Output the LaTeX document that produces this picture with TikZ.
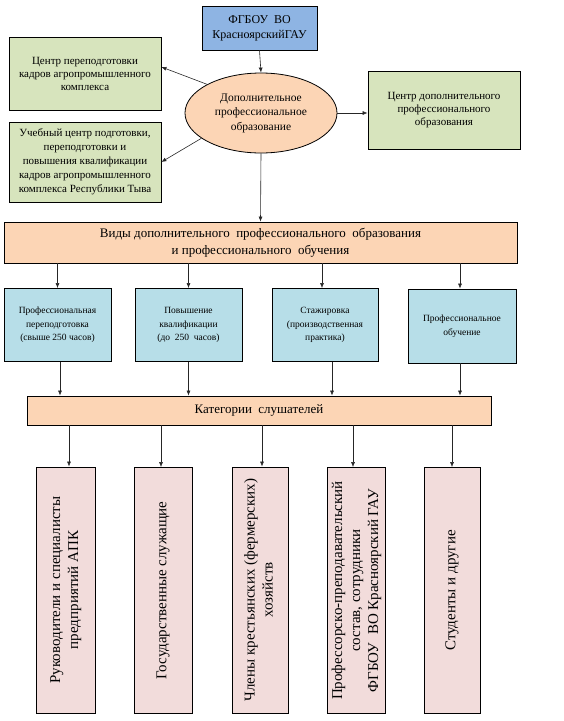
\documentclass[tikz,border=0pt]{standalone}
\usepackage{fontspec}
\setmainfont{Liberation Serif}
\usetikzlibrary{arrows.meta,shapes.geometric}
\definecolor{topblue}{HTML}{8EB4E3}
\definecolor{greenbox}{HTML}{D7E4BD}
\definecolor{peach}{HTML}{FCD5B5}
\definecolor{lightblue}{HTML}{B7DEE8}
\definecolor{pinkbox}{HTML}{F2DCDB}
\tikzset{
  box/.style={draw=black, line width=0.8pt, align=center, inner sep=2pt},
  arr/.style={-{Latex[length=5pt,width=4pt]}, line width=0.6pt, color=black!85},
  pinkcol/.style={box, fill=pinkbox, minimum height=246pt, font=\fontsize{15}{18}\selectfont},
}
\begin{document}
\begin{tikzpicture}[x=1pt,y=-1pt]
\useasboundingbox (0,0) rectangle (563,721);
% top level
\node[box, fill=topblue, minimum width=115pt, minimum height=44pt, font=\fontsize{12}{15}\selectfont] (fgbou) at (259.5,28) {ФГБОУ~~ВО\\КрасноярскийГАУ};
\node[box, fill=greenbox, minimum width=152pt, minimum height=73pt, font=\fontsize{11}{13}\selectfont] (retrain) at (85,73.5) {Центр переподготовки\\кадров агропромышленного\\комплекса};
\node[box, fill=greenbox, minimum width=152pt, minimum height=80pt, font=\fontsize{11}{14}\selectfont] (tyva) at (85,162) {Учебный центр подготовки,\\переподготовки и\\повышения квалификации\\кадров агропромышленного\\комплекса Республики Тыва};
\node[ellipse, draw=black, line width=0.8pt, fill=peach, minimum width=152pt, minimum height=80pt, inner sep=0pt, align=center, font=\fontsize{11.5}{14.5}\selectfont] (dpo) at (261,113) {Дополнительное\\профессиональное\\образование};
\node[box, fill=greenbox, minimum width=152pt, minimum height=78pt, font=\fontsize{11}{13}\selectfont] (center) at (444,110) {Центр дополнительного\\профессионального\\образования};
% kinds
\node[box, fill=peach, minimum width=513pt, minimum height=41pt, font=\fontsize{13}{17}\selectfont] (kinds) at (260.5,242.5) {Виды дополнительного~~профессионального~~образования\\и профессионального~~обучения};
\node[box, fill=lightblue, minimum width=107pt, minimum height=73pt, font=\fontsize{9.5}{13.5}\selectfont] (k1) at (57.5,325) {Профессиональная\\переподготовка\\(свыше 250 часов)};
\node[box, fill=lightblue, minimum width=107pt, minimum height=73pt, font=\fontsize{9.5}{13.5}\selectfont] (k2) at (188.5,325) {Повышение\\квалификации\\(до~~250~~часов)};
\node[box, fill=lightblue, minimum width=106pt, minimum height=73pt, font=\fontsize{9.5}{13.5}\selectfont] (k3) at (325,325) {Стажировка\\(производственная\\практика)};
\node[box, fill=lightblue, minimum width=108pt, minimum height=74pt, font=\fontsize{9.5}{13.5}\selectfont] (k4) at (462,326) {Профессиональное\\обучение};
% listeners
\node[box, fill=peach, minimum width=464pt, minimum height=29pt, font=\fontsize{13}{16}\selectfont] (cat) at (259,410.5) {Категории~~слушателей};
\node[pinkcol, minimum width=59pt] (c1) at (65.5,590) {\rotatebox{90}{\begin{tabular}{@{}c@{}}Руководители и специалисты\\предприятий АПК\end{tabular}}};
\node[pinkcol, minimum width=58pt] (c2) at (163,590.5) {\rotatebox{90}{Государственные служащие}};
\node[pinkcol, minimum width=56pt] (c3) at (260,590) {\rotatebox{90}{\begin{tabular}{@{}c@{}}Члены крестьянских (фермерских)\\хозяйств\end{tabular}}};
\node[pinkcol, minimum width=57pt] (c4) at (356.5,590.5) {\rotatebox{90}{\begin{tabular}{@{}c@{}}Профессорско-преподавательский\\состав, сотрудники\\ФГБОУ~~ВО Красноярский ГАУ\end{tabular}}};
\node[pinkcol, minimum width=56pt] (c5) at (452,590.5) {\rotatebox{90}{Студенты и другие}};
% connectors
\draw[arr] (fgbou.south) -- (dpo.north);
\draw[arr] (dpo.152) -- ([yshift=6.5pt]retrain.east);
\draw[arr] (dpo.203) -- (tyva.east);
\draw[arr] (dpo.east) -- (dpo.east -| center.west);
\draw[arr] (dpo.south) -- (kinds.north);
\draw[arr] (kinds.south -| k1.north) -- (k1.north);
\draw[arr] (kinds.south -| k2.north) -- (k2.north);
\draw[arr] ([xshift=-3pt]kinds.south -| k3.north) -- ([xshift=-3pt]k3.north);
\draw[arr] ([xshift=-2pt]kinds.south -| k4.north) -- ([xshift=-2pt]k4.north);
\draw[arr] ([xshift=2.5pt]k1.south) -- ([xshift=2.5pt]k1.south |- cat.north);
\draw[arr] (k2.south) -- (k2.south |- cat.north);
\draw[arr] ([xshift=7pt]k3.south) -- ([xshift=7pt]k3.south |- cat.north);
\draw[arr] ([xshift=-2pt]k4.south) -- ([xshift=-2pt]k4.south |- cat.north);
\draw[arr] ([xshift=3.5pt]cat.south -| c1.north) -- ([xshift=3.5pt]c1.north);
\draw[arr] ([xshift=-2pt]cat.south -| c2.north) -- ([xshift=-2pt]c2.north);
\draw[arr] ([xshift=2pt]cat.south -| c3.north) -- ([xshift=2pt]c3.north);
\draw[arr] ([xshift=-3.5pt]cat.south -| c4.north) -- ([xshift=-3.5pt]c4.north);
\draw[arr] (cat.south -| c5.north) -- (c5.north);
\end{tikzpicture}
\end{document}
